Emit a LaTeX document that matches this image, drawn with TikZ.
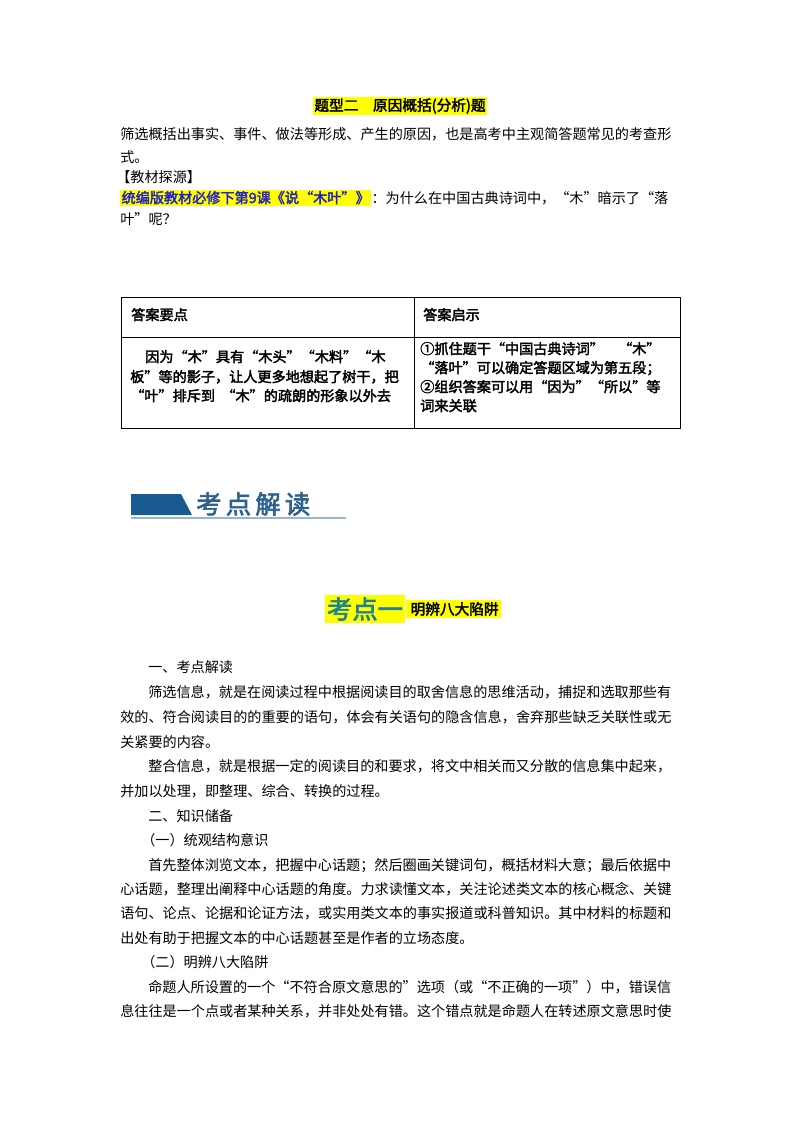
\documentclass[tikz,border=0pt]{standalone}
\usepackage{fontspec}
\setmainfont{Liberation Serif}
\newfontfamily\cjk[AutoFakeBold=2.5]{Noto Sans CJK SC}
\usetikzlibrary{positioning}
\definecolor{hiyel}{RGB}{255,255,0}
\definecolor{bandblue}{RGB}{25,90,145}
\definecolor{inkblue}{RGB}{35,35,200}
\definecolor{kdteal}{RGB}{30,130,150}
\tikzset{
  body/.style={anchor=base west, inner sep=0pt, font=\cjk\fontsize{10.6pt}{12pt}\selectfont},
  bodyb/.style={body, font=\cjk\bfseries\fontsize{10.6pt}{12pt}\selectfont},
  hilite/.style={fill=hiyel, inner sep=1pt}
}
\begin{document}
\begin{tikzpicture}[x=0.75pt, y=-0.75pt]
\useasboundingbox (0,0) rectangle (800,1132);
% heading
\node[hilite, font=\cjk\bfseries\fontsize{11pt}{12pt}\selectfont] (head) at (400,106) {题型二\quad 原因概括(分析)题};
\node[body] (p1) at (120,139) {筛选概括出事实、事件、做法等形成、产生的原因，也是高考中主观简答题常见的考查形};
\node[body] (p2) at (120,162) {式。};
\node[body] (p3) at (116,182) {【教材探源】};
\node[bodyb, fill=hiyel, text=inkblue, inner sep=1pt] (src) at (120,203) {统编版教材必修下第9课《说“木叶”》};
\node[body, right=0pt of src.base east, anchor=base west] (q1) {：为什么在中国古典诗词中，“木”暗示了“落};
\node[body] (q2) at (120,224) {叶”呢？};
% table
\draw[line width=0.6pt] (121,297) rectangle (680,428);
\draw[line width=0.5pt] (121,337) -- (680,337);
\draw[line width=0.5pt] (414,297) -- (414,428);
\node[bodyb] (h1) at (131,320) {答案要点};
\node[bodyb] (h2) at (423,320) {答案启示};
\node[bodyb] (a1) at (145,362) {因为“木”具有“木头”“木料”“木};
\node[bodyb] (a2) at (130,382) {板”等的影子，让人更多地想起了树干，把};
\node[bodyb] (a3) at (130,401) {“叶”排斥到\ \ “木”的疏朗的形象以外去};
\node[bodyb] (b1) at (420,354) {①抓住题干“中国古典诗词”\quad “木”};
\node[bodyb] (b2) at (420,373) {“落叶”可以确定答题区域为第五段；};
\node[bodyb] (b3) at (420,392) {②组织答案可以用“因为”“所以”等};
\node[bodyb] (b4) at (420,411) {词来关联};
% banner
\fill[bandblue] (131,494) -- (181,494) -- (192,515) -- (131,515) -- cycle;
\draw[color=bandblue!45, line width=1pt] (131,518) -- (346,518);
\node[anchor=west, text=bandblue!80!gray, font=\cjk\bfseries\fontsize{19pt}{20pt}\selectfont, inner sep=0pt] (band) at (196,504) {考\,点\,解\,读};
% point one
\node[hilite, text=kdteal, font=\cjk\bfseries\fontsize{19pt}{20pt}\selectfont, inner sep=1.5pt] (kd) at (365,609) {考点一};
\node[hilite, right=0pt of kd, font=\cjk\bfseries\fontsize{11pt}{12pt}\selectfont, inner sep=2pt] (kt) {\,明辨八大陷阱};
% body text
\node[body] (l1) at (148,672) {一、考点解读};
\node[body] (l2) at (148,697) {筛选信息，就是在阅读过程中根据阅读目的取舍信息的思维活动，捕捉和选取那些有};
\node[body] (l3) at (120,722) {效的、符合阅读目的的重要的语句，体会有关语句的隐含信息，舍弃那些缺乏关联性或无};
\node[body] (l4) at (120,747) {关紧要的内容。};
\node[body] (l5) at (148,771) {整合信息，就是根据一定的阅读目的和要求，将文中相关而又分散的信息集中起来，};
\node[body] (l6) at (120,796) {并加以处理，即整理、综合、转换的过程。};
\node[body] (l7) at (148,821) {二、知识储备};
\node[body] (l8) at (141,845) {（一）统观结构意识};
\node[body] (l9) at (148,870) {首先整体浏览文本，把握中心话题；然后圈画关键词句，概括材料大意；最后依据中};
\node[body] (l10) at (120,894) {心话题，整理出阐释中心话题的角度。力求读懂文本，关注论述类文本的核心概念、关键};
\node[body] (l11) at (120,918) {语句、论点、论据和论证方法，或实用类文本的事实报道或科普知识。其中材料的标题和};
\node[body] (l12) at (120,943) {出处有助于把握文本的中心话题甚至是作者的立场态度。};
\node[body] (l13) at (141,967) {（二）明辨八大陷阱};
\node[body] (l14) at (148,992) {命题人所设置的一个“不符合原文意思的”选项（或“不正确的一项”）中，错误信};
\node[body] (l15) at (120,1016) {息往往是一个点或者某种关系，并非处处有错。这个错点就是命题人在转述原文意思时使};
\end{tikzpicture}
\end{document}
